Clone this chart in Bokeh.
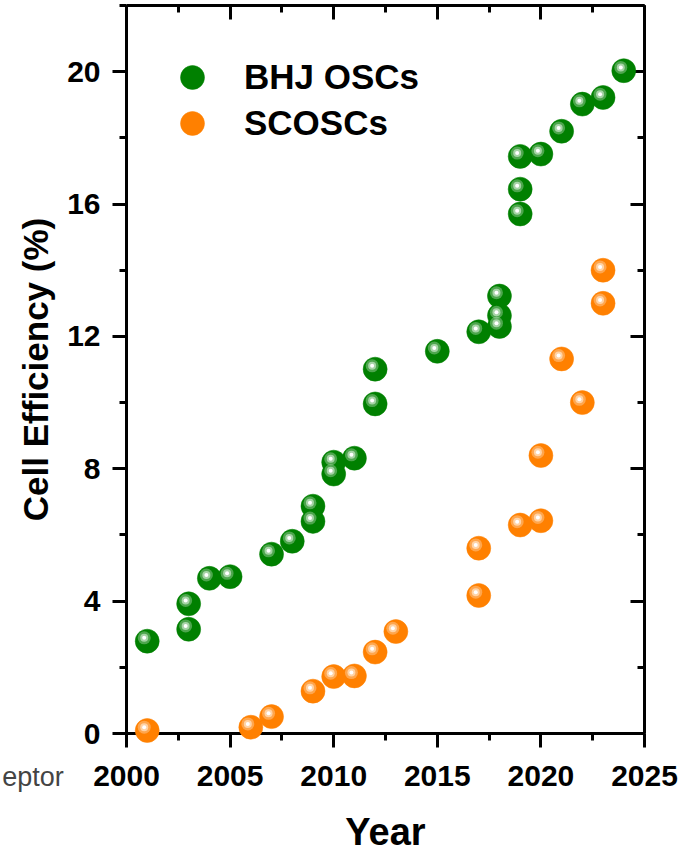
from bokeh.plotting import figure
from bokeh.models import (Range1d, LinearAxis, SingleIntervalTicker, Legend, LegendItem,
                          ColumnDataSource)
from bokeh.core.properties import value
from bokeh.transform import dodge
from bokeh.embed import file_html
from bokeh.resources import INLINE

# ---- data ----
bhj_year = [2001, 2003, 2003, 2004, 2005, 2007, 2008, 2009, 2009, 2010, 2010, 2011,
            2012, 2012, 2015, 2017, 2018, 2018, 2018, 2019, 2019, 2019, 2020, 2021,
            2022, 2023, 2024]
bhj_eff = [2.79, 3.15, 3.92, 4.69, 4.74, 5.42, 5.81, 6.41, 6.87, 7.84, 8.20, 8.32,
           9.96, 11.01, 11.55, 12.14, 12.30, 12.63, 13.22, 15.70, 16.45, 17.44, 17.51, 18.20,
           19.02, 19.22, 20.03]
sc_year = [2001, 2006, 2007, 2009, 2010, 2011, 2012, 2013, 2017, 2017, 2019, 2020,
           2020, 2021, 2022, 2023, 2023]
sc_eff = [0.09, 0.19, 0.51, 1.28, 1.72, 1.74, 2.46, 3.08, 4.17, 5.60, 6.30, 6.43,
          8.40, 11.32, 10.00, 13.00, 14.00]
series_names = ["BHJ OSCs", "SCOSCs"]
series_colors = ["#008000", "#FF8000"]
x_ticks_interval = 5
y_ticks_interval = 4
stray_text = ["eptor"]

FONT = "Liberation Sans"

p = figure(width=678, height=868, output_backend="svg", toolbar_location=None,
           x_range=Range1d(2000, 2025), y_range=Range1d(0, 22),
           min_border_left=126, min_border_right=34, min_border_top=5, min_border_bottom=135,
           x_axis_location=None, y_axis_location=None)
p.grid.visible = False
p.outline_line_color = None
p.background_fill_color = "white"
p.border_fill_color = "white"


def style_axis(ax, labels=True, inward=False):
    ax.axis_line_width = 3
    ax.axis_line_color = "black"
    ax.major_tick_line_width = 3
    ax.minor_tick_line_width = 3
    ax.major_tick_line_color = "black"
    ax.minor_tick_line_color = "black"
    if inward:
        ax.major_tick_in, ax.major_tick_out = 14, 0
        ax.minor_tick_in, ax.minor_tick_out = 7, 0
    else:
        ax.major_tick_in, ax.major_tick_out = 0, 14
        ax.minor_tick_in, ax.minor_tick_out = 0, 7
    if labels:
        ax.major_label_text_font = FONT
        ax.major_label_text_font_style = "bold"
        ax.major_label_text_font_size = "30px"
        ax.major_label_text_color = "black"
    else:
        ax.major_label_text_font_size = "1px"
        ax.major_label_text_color = None
        ax.major_label_standoff = 0


xt = lambda: SingleIntervalTicker(interval=x_ticks_interval, num_minor_ticks=2)
yt = lambda: SingleIntervalTicker(interval=y_ticks_interval, num_minor_ticks=2)

xb = LinearAxis(ticker=xt(), axis_label="Year")
style_axis(xb)
xb.major_label_standoff = 18
xb.axis_label_text_font = FONT
xb.axis_label_text_font_style = "bold"
xb.axis_label_text_font_size = "38px"
xb.axis_label_text_color = "black"
xb.axis_label_standoff = 22
p.add_layout(xb, "below")

yl = LinearAxis(ticker=yt(), axis_label="Cell Efficiency (%)")
style_axis(yl)
yl.major_label_standoff = 12
yl.axis_label_text_font = FONT
yl.axis_label_text_font_style = "bold"
yl.axis_label_text_font_size = "35px"
yl.axis_label_text_color = "black"
yl.axis_label_standoff = 9
p.add_layout(yl, "left")

xa = LinearAxis(ticker=xt())
style_axis(xa, labels=False, inward=True)
p.add_layout(xa, "above")

yr = LinearAxis(ticker=yt())
style_axis(yr, labels=False, inward=True)
p.add_layout(yr, "right")

# ---- points with sphere-like highlight ----
main_renderers = []
for xs, ys, col in [(bhj_year, bhj_eff, series_colors[0]), (sc_year, sc_eff, series_colors[1])]:
    src = ColumnDataSource(dict(x=xs, y=ys))
    r = p.scatter("x", "y", source=src, size=24, fill_color=col, line_color=col,
                  line_width=0.5, level="overlay")
    main_renderers.append(r)
    hx = dodge("x", -0.145)
    hy = dodge("y", 0.10)
    p.scatter(hx, hy, source=src, size=13, fill_color="white", fill_alpha=0.3,
              line_color=None, level="overlay")
    p.scatter(hx, hy, source=src, size=8, fill_color="white", fill_alpha=0.5,
              line_color=None, level="overlay")
    p.scatter(hx, hy, source=src, size=4, fill_color="white", fill_alpha=1.0,
              line_color=None, level="overlay")

# two single-item legends (screen offsets from frame bottom-left)
legend_pos = [(36, 626), (36, 580)]
for name, r, loc in zip(series_names, main_renderers, legend_pos):
    lg = Legend(items=[LegendItem(label=name, renderers=[r])],
                location=loc, margin=0, padding=0, spacing=0,
                glyph_width=60, glyph_height=60, label_standoff=22,
                label_text_font=FONT, label_text_font_style="bold",
                label_text_font_size="35px", label_text_color="black",
                border_line_color=None, background_fill_alpha=0)
    p.add_layout(lg)

# cut-off fragment of a neighbouring label, left of the x tick labels
p.text(x=[1996.97], y=[-1.30], text=stray_text, text_align="right",
       text_baseline="alphabetic", text_font=value(FONT), text_font_size="27px",
       text_color="#444444", level="overlay")

open("out.html", "w").write(file_html(p, INLINE))
